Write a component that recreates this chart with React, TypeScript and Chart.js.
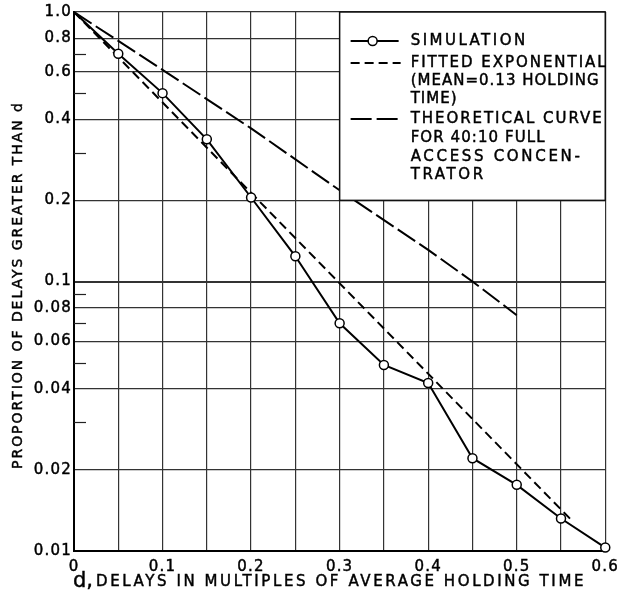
import React, { useEffect, useRef } from 'react';
import { Chart, registerables } from 'chart.js';

Chart.register(...registerables);

// ---- data ----
const SIM_X = [0, 0.05, 0.1, 0.15, 0.2, 0.25, 0.3, 0.35, 0.4, 0.45, 0.5, 0.55, 0.6];
const SIM_Y = [1.0, 0.70, 0.50, 0.337, 0.205, 0.124, 0.070, 0.049, 0.042, 0.0221, 0.0176, 0.0132, 0.0103];

const FIT_X = [0, 0.564];
const FIT_Y = [1.0, 0.0128];

const THEO_X = [0, 0.1, 0.2, 0.3, 0.4, 0.45, 0.5];
const THEO_Y = [1.0, 0.61, 0.37, 0.218, 0.131, 0.1, 0.075];

const X_TICKS = [0, 0.05, 0.1, 0.15, 0.2, 0.25, 0.3, 0.35, 0.4, 0.45, 0.5, 0.55, 0.6];
const X_TICK_LABELS = ['0', '', '0.1', '', '0.2', '', '0.3', '', '0.4', '', '0.5', '', '0.6'];

const Y_TICKS = [0.01, 0.02, 0.04, 0.06, 0.08, 0.1, 0.2, 0.4, 0.6, 0.8, 1.0];
const Y_TICK_LABELS = ['0.01', '0.02', '0.04', '0.06', '0.08', '0.1', '0.2', '0.4', '0.6', '0.8', '1.0'];
const Y_MINOR_TICKS = [0.03, 0.05, 0.07, 0.09, 0.3, 0.5, 0.7];

const LEGEND_SIM = ['SIMULATION'];
const LEGEND_FIT = ['FITTED EXPONENTIAL', '(MEAN=0.13 HOLDING', 'TIME)'];
const LEGEND_THEO = ['THEORETICAL CURVE', 'FOR 40:10 FULL', 'ACCESS CONCEN-', 'TRATOR'];

const X_TITLE_D = 'd,';
const X_TITLE = 'DELAYS IN MULTIPLES OF AVERAGE HOLDING TIME';
const Y_TITLE = 'PROPORTION OF DELAYS GREATER THAN d';

const FONT = '"DejaVu Sans", sans-serif';
const INK = 0.45;

function spacedText(ctx: CanvasRenderingContext2D, text: string, target: number): string {
  ctx.letterSpacing = '0px';
  const w = ctx.measureText(text).width;
  const s = Math.max(0, (target - w) / text.length);
  return s.toFixed(2) + 'px';
}

function ink(ctx: CanvasRenderingContext2D, t: string, x: number, y: number) {
  ctx.fillText(t, x, y);
  ctx.lineWidth = INK;
  ctx.strokeStyle = '#000';
  ctx.strokeText(t, x, y);
}

const overlay = {
  id: 'overlay',
  beforeUpdate(chart: any) {
    chart.ctx.letterSpacing = '1.2px';
  },
  beforeDraw(chart: any) {
    chart.ctx.letterSpacing = '1.2px';
  },
  beforeDatasetsDraw(chart: any) {
    const { ctx, chartArea, scales } = chart;
    const ys = scales.y;
    ctx.save();
    ctx.strokeStyle = '#222';
    ctx.lineWidth = 1.2;
    for (const v of Y_MINOR_TICKS) {
      const y = Math.round(ys.getPixelForValue(v)) + 0.5;
      ctx.beginPath();
      ctx.moveTo(chartArea.left, y);
      ctx.lineTo(chartArea.left + 12, y);
      ctx.stroke();
    }
    ctx.restore();
  },
  afterDatasetsDraw(chart: any) {
    const { ctx, chartArea, scales } = chart;
    const xs = scales.x;
    const ys = scales.y;
    const x0 = xs.getPixelForValue(0.3);
    const x1 = chartArea.right;
    const y0 = chartArea.top;
    const y1 = ys.getPixelForValue(0.2);
    ctx.save();
    ctx.fillStyle = '#fff';
    ctx.fillRect(x0, y0, x1 - x0, y1 - y0);
    ctx.strokeStyle = '#111';
    ctx.lineWidth = 1.5;
    ctx.strokeRect(x0, y0, x1 - x0, y1 - y0);

    const sx0 = x0 + 11;
    const sx1 = x0 + 59;
    const tx = x0 + 71;
    ctx.lineWidth = 2;
    ctx.strokeStyle = '#000';
    // simulation sample
    let ry = y0 + 29;
    ctx.setLineDash([]);
    ctx.beginPath();
    ctx.moveTo(sx0, ry);
    ctx.lineTo(sx1, ry);
    ctx.stroke();
    ctx.beginPath();
    ctx.arc(x0 + 33, ry, 4.5, 0, Math.PI * 2);
    ctx.fillStyle = '#fff';
    ctx.fill();
    ctx.lineWidth = 1.5;
    ctx.stroke();
    // fitted sample
    ctx.lineWidth = 2;
    ctx.setLineDash([9, 5]);
    ry = y0 + 51;
    ctx.beginPath();
    ctx.moveTo(sx0, ry);
    ctx.lineTo(sx1 + 2, ry);
    ctx.stroke();
    // theoretical sample
    ctx.setLineDash([21, 5]);
    ry = y0 + 107;
    ctx.beginPath();
    ctx.moveTo(sx0, ry);
    ctx.lineTo(sx1 + 2, ry);
    ctx.stroke();
    ctx.setLineDash([]);

    ctx.fillStyle = '#000';
    ctx.font = '15px ' + FONT;
    ctx.textAlign = 'left';
    ctx.textBaseline = 'middle';
    const rows: [string, number, number][] = [
      [LEGEND_SIM[0], 29, 117],
      [LEGEND_FIT[0], 51, 197],
      [LEGEND_FIT[1], 68.5, 189],
      [LEGEND_FIT[2], 86.5, 47],
      [LEGEND_THEO[0], 107, 193],
      [LEGEND_THEO[1], 125.5, 135],
      [LEGEND_THEO[2], 144.5, 172],
      [LEGEND_THEO[3], 163, 75],
    ];
    for (const [t, dy, w] of rows) {
      ctx.letterSpacing = spacedText(ctx, t, w);
      ink(ctx, t, tx, y0 + dy + 0.5);
    }
    ctx.restore();
  },
  afterDraw(chart: any) {
    const { ctx } = chart;
    ctx.save();
    ctx.fillStyle = '#000';
    // x title
    ctx.textAlign = 'left';
    ctx.textBaseline = 'alphabetic';
    ctx.font = '21px ' + FONT;
    ctx.letterSpacing = '0px';
    ink(ctx, X_TITLE_D, 73, 587);
    ctx.font = '15px ' + FONT;
    ctx.letterSpacing = spacedText(ctx, X_TITLE, 490);
    ink(ctx, X_TITLE, 96, 586);
    // y title
    ctx.translate(18, 285);
    ctx.rotate(-Math.PI / 2);
    ctx.font = '14px ' + FONT;
    ctx.textAlign = 'center';
    ctx.textBaseline = 'middle';
    ctx.letterSpacing = spacedText(ctx, Y_TITLE, 368);
    ink(ctx, Y_TITLE, 0, 0);
    ctx.restore();
  },
};

export default function App() {
  const ref = useRef<HTMLCanvasElement | null>(null);

  useEffect(() => {
    if (!ref.current) return;
    const chart = new Chart(ref.current, {
      type: 'line',
      data: {
        datasets: [
          {
            label: 'SIMULATION',
            data: SIM_X.map((x, i) => ({ x, y: SIM_Y[i] })),
            borderColor: '#000',
            borderWidth: 2,
            pointRadius: SIM_X.map((_, i) => (i === 0 ? 0 : 4.5)),
            pointBackgroundColor: '#fff',
            pointBorderColor: '#000',
            pointBorderWidth: 1.5,
            tension: 0,
            clip: false as any,
          },
          {
            label: 'FITTED EXPONENTIAL',
            data: FIT_X.map((x, i) => ({ x, y: FIT_Y[i] })),
            borderColor: '#000',
            borderWidth: 2,
            borderDash: [9, 5],
            pointRadius: 0,
            tension: 0,
          },
          {
            label: 'THEORETICAL CURVE',
            data: THEO_X.map((x, i) => ({ x, y: THEO_Y[i] })),
            borderColor: '#000',
            borderWidth: 2,
            borderDash: [21, 5],
            pointRadius: 0,
            tension: 0,
          },
        ],
      },
      options: {
        responsive: false,
        animation: false,
        events: [],
        layout: { padding: { left: 0, right: 14, top: 12, bottom: 0 } },
        plugins: {
          legend: { display: false },
          tooltip: { enabled: false },
          title: { display: false },
        },
        scales: {
          x: {
            type: 'linear',
            min: 0,
            max: 0.6,
            afterBuildTicks: (s: any) => {
              s.ticks = X_TICKS.map((v) => ({ value: v }));
            },
            afterFit: (s: any) => {
              s.height = 44;
            },
            ticks: {
              autoSkip: false,
              maxRotation: 0,
              padding: 7,
              color: '#000',
              textStrokeColor: '#000',
              textStrokeWidth: INK,
              font: { family: FONT, size: 15 },
              callback: (_v: any, i: number) => X_TICK_LABELS[i],
            },
            grid: { color: '#333', lineWidth: 1.2, drawTicks: false },
            border: { color: '#000', width: 2 },
          },
          y: {
            type: 'logarithmic',
            min: 0.01,
            max: 1,
            afterBuildTicks: (s: any) => {
              s.ticks = Y_TICKS.map((v) => ({ value: v }));
            },
            afterFit: (s: any) => {
              s.width = 74;
            },
            ticks: {
              autoSkip: false,
              padding: 2,
              color: '#000',
              textStrokeColor: '#000',
              textStrokeWidth: INK,
              font: { family: FONT, size: 15 },
              callback: (_v: any, i: number) => Y_TICK_LABELS[i],
            },
            grid: {
              color: '#333',
              lineWidth: (c: any) => (c.tick && c.tick.value === 0.1 ? 2 : 1.2),
              drawTicks: false,
            },
            border: { color: '#000', width: 2 },
          },
        },
      },
      plugins: [overlay],
    } as any);
    return () => chart.destroy();
  }, []);

  return (
    <div style={{ position: 'fixed', left: 0, top: 0, width: 626, height: 595, background: '#fff' }}>
      <canvas ref={ref} width={626} height={595} style={{ display: 'block', width: 626, height: 595 }} />
    </div>
  );
}
